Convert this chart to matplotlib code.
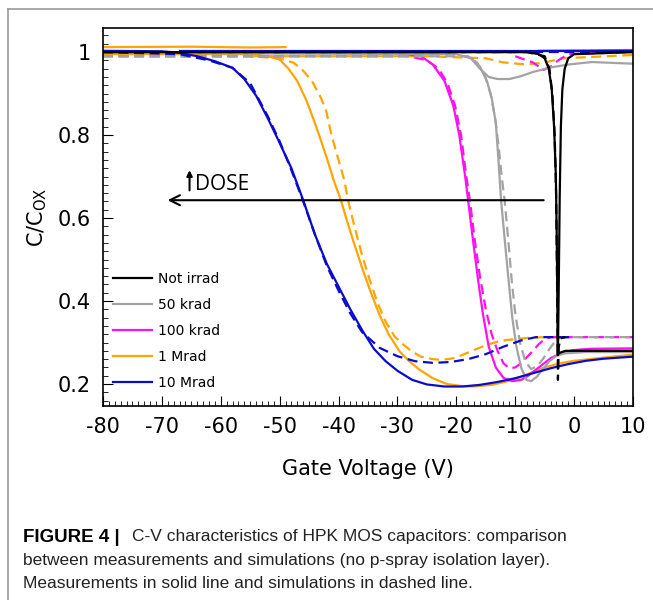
import numpy as np
import matplotlib.pyplot as plt
from matplotlib.lines import Line2D
from matplotlib.ticker import MultipleLocator, FixedLocator, FixedFormatter

plt.rcParams['axes.unicode_minus'] = False

labels = ['Not irrad', '50 krad', '100 krad', '1 Mrad', '10 Mrad']
colors = ['black', '#a3a3a3', '#ff10f0', '#ffa500', '#0b0bcc']

# 10 Mrad
v10M_meas = [-80, -70, -67, -64, -61, -58, -56, -54, -52, -50.3, -48, -46, -44, -42, -40, -38, -36, -34,
             -32, -30, -27.5, -25, -22, -19, -16, -13, -10, -7, -4, -1, 2, 5, 10]
c10M_meas = [1.003, 1.002, 0.998, 0.99, 0.978, 0.962, 0.935, 0.895, 0.84, 0.79, 0.72, 0.643, 0.56, 0.49,
             0.435, 0.38, 0.33, 0.285, 0.255, 0.232, 0.21, 0.199, 0.194, 0.194, 0.198, 0.205, 0.214, 0.226,
             0.238, 0.248, 0.256, 0.261, 0.266]
v10M_sim = [-80, -67, -62, -58, -55, -52, -50, -48, -46, -44, -42, -40, -38, -36, -33, -30, -27, -24, -21,
            -18, -15, -12, -9, -6.5, -0.5]
c10M_sim = [1.0, 0.995, 0.98, 0.962, 0.925, 0.845, 0.785, 0.715, 0.64, 0.56, 0.485, 0.425, 0.37, 0.325,
            0.287, 0.267, 0.255, 0.251, 0.253, 0.26, 0.272, 0.29, 0.305, 0.313, 0.313]
v10M_top = [-67, 10]
c10M_top = [1.003, 1.003]
v10M_top_sim = [-65, 10]
c10M_top_sim = [1.0, 1.0]

# 1 Mrad
v1M_meas = [-80, -55, -52, -50, -48.5, -47, -45.5, -44.3, -43.3, -42, -40.8, -39.6, -38.5, -37.5, -36,
            -34.5, -33, -31.5, -29.6, -28, -26.2, -24, -21.6, -19, -17.2, -14, -11.5, -9.5, -7.5, -5,
            -2.4, 0, 4, 10]
c1M_meas = [0.995, 0.995, 0.99, 0.982, 0.96, 0.93, 0.885, 0.84, 0.80, 0.745, 0.69, 0.643, 0.59, 0.545,
            0.48, 0.42, 0.365, 0.32, 0.278, 0.255, 0.234, 0.214, 0.20, 0.195, 0.194, 0.198, 0.206, 0.215,
            0.226, 0.24, 0.25, 0.256, 0.262, 0.271]
v1M_sim = [-80, -55, -50, -47.6, -46, -44.5, -43, -42.1, -41.2, -40, -39, -38.4, -37.3, -36, -34.8,
           -33.5, -32, -30.5, -29, -27.5, -26, -24, -22.5, -20.5, -19, -17, -14.9, -13, -11.5, -8, -5, -1]
c1M_sim = [0.99, 0.99, 0.985, 0.974, 0.955, 0.93, 0.89, 0.858, 0.80, 0.74, 0.69, 0.643, 0.58, 0.51,
           0.455, 0.40, 0.35, 0.315, 0.295, 0.278, 0.266, 0.26, 0.258, 0.262, 0.27, 0.282, 0.294, 0.302,
           0.306, 0.311, 0.313, 0.313]
v1M_top = [-80, -65, -55, -49]
c1M_top = [1.012, 1.013, 1.011, 1.012]
v1M_top_sim = [-55, -25, -15, -12, -8, -5, -2, 10]
c1M_top_sim = [0.99, 0.99, 0.985, 0.975, 0.97, 0.975, 0.985, 0.993]

# 100 krad
v100k_meas = [-80, -30, -26, -24, -22, -20.5, -19.5, -18.5, -18, -17.2, -16.3, -15.5, -14.5, -13.3, -12,
              -10.5, -9, -8, -6, -4, -2, 0, 3, 10]
c100k_meas = [1.0, 0.998, 0.99, 0.97, 0.93, 0.87, 0.80, 0.70, 0.643, 0.55, 0.45, 0.37, 0.29, 0.24, 0.215,
              0.207, 0.21, 0.218, 0.24, 0.262, 0.276, 0.282, 0.285, 0.286]
v100k_sim = [-80, -28, -25, -23, -21.5, -20.2, -19.2, -18.3, -17.7, -16.9, -16, -15, -14, -13, -12, -11,
             -10, -9, -8, -7, -6, -5, -4, 10]
c100k_sim = [0.99, 0.99, 0.98, 0.96, 0.925, 0.87, 0.80, 0.70, 0.643, 0.55, 0.46, 0.38, 0.32, 0.28, 0.25,
             0.238, 0.24, 0.25, 0.265, 0.28, 0.296, 0.308, 0.313, 0.313]
v100k_top = [-6, 10]
c100k_top = [1.003, 1.005]
v100k_top_sim = [-10, -7, -5.2, -4, -2.7, -1, 10]
c100k_top_sim = [0.99, 0.975, 0.957, 0.965, 0.98, 0.995, 1.0]

# 50 krad
v50k_meas = [-80, -20, -17.5, -16, -14.8, -14, -13.3, -12.9, -12.4, -11.8, -11.2, -10.5, -9.8, -9, -8.1,
             -7.3, -6.3, -5.3, -4.2, -3, -1.5, 2, 10]
c50k_meas = [0.998, 0.995, 0.985, 0.965, 0.93, 0.89, 0.83, 0.75, 0.643, 0.55, 0.46, 0.36, 0.29, 0.24,
             0.21, 0.207, 0.218, 0.236, 0.255, 0.268, 0.274, 0.277, 0.277]
v50k_sim = [-80, -18, -16.5, -15.2, -14.2, -13.4, -12.8, -12.3, -11.8, -11.2, -10.6, -10, -9.2, -8.3,
            -7.3, -6.3, -5.3, -4.4, -3.6, -2.6, -1.5, 10]
c50k_sim = [0.99, 0.99, 0.975, 0.945, 0.9, 0.84, 0.77, 0.70, 0.643, 0.55, 0.45, 0.37, 0.30, 0.255, 0.236,
            0.243, 0.26, 0.28, 0.296, 0.31, 0.313, 0.313]
v50k_top = [-17.5, -16, -14.5, -13, -11, -9, -7, -4, -1, 3, 10]
c50k_top = [0.985, 0.96, 0.94, 0.935, 0.935, 0.942, 0.952, 0.963, 0.97, 0.976, 0.972]

# not irradiated
v0_meas = [-80, -8, -6, -5, -4.3, -3.8, -3.4, -3.1, -2.95, -2.85, -2.8, -2.5, -1.5, 10]
c0_meas = [1.0, 1.0, 0.995, 0.985, 0.96, 0.91, 0.82, 0.70, 0.55, 0.40, 0.27, 0.275, 0.28, 0.28]
v0_sim = [-80, -8, -5, -4.2, -3.7, -3.3, -3.05, -2.9, -2.8, -2.75, -2.6, -2.3, -1.5]
c0_sim = [1.0, 1.0, 0.99, 0.96, 0.9, 0.8, 0.65, 0.45, 0.3, 0.21, 0.29, 0.31, 0.313]
v0_top = [-2.75, -2.6, -2.45, -2.25, -2.0, -1.6, -1, 0, 10]
c0_top = [0.27, 0.45, 0.65, 0.82, 0.91, 0.96, 0.985, 0.995, 1.0]

fig = plt.figure(figsize=(6.53, 6.0), dpi=100)
ax = fig.add_axes([0.1577, 0.3233, 0.8117, 0.63])

lw = 1.6
dash = (0, (4.5, 2.5))

# 1 Mrad
ax.plot(v1M_top, c1M_top, color=colors[3], lw=lw)
ax.plot(v1M_top_sim, c1M_top_sim, color=colors[3], lw=lw, ls=dash)
ax.plot(v1M_meas, c1M_meas, color=colors[3], lw=lw)
ax.plot(v1M_sim, c1M_sim, color=colors[3], lw=lw, ls=dash)
# 100 krad
ax.plot(v100k_top, c100k_top, color=colors[2], lw=lw)
ax.plot(v100k_top_sim, c100k_top_sim, color=colors[2], lw=lw, ls=dash)
ax.plot(v100k_meas, c100k_meas, color=colors[2], lw=lw)
ax.plot(v100k_sim, c100k_sim, color=colors[2], lw=lw, ls=dash)
# 50 krad
ax.plot(v50k_top, c50k_top, color=colors[1], lw=lw)
ax.plot(v50k_meas, c50k_meas, color=colors[1], lw=lw)
ax.plot(v50k_sim, c50k_sim, color=colors[1], lw=lw, ls=dash)
# 10 Mrad
ax.plot(v10M_top, c10M_top, color=colors[4], lw=lw)
ax.plot(v10M_top_sim, c10M_top_sim, color=colors[4], lw=lw, ls=dash)
ax.plot(v10M_meas, c10M_meas, color=colors[4], lw=lw)
ax.plot(v10M_sim, c10M_sim, color=colors[4], lw=lw, ls=dash)
# not irradiated
ax.plot(v0_meas, c0_meas, color=colors[0], lw=lw)
ax.plot(v0_top, c0_top, color=colors[0], lw=lw)
ax.plot(v0_sim, c0_sim, color=colors[0], lw=lw, ls=dash)

ax.set_xlim(-80, 10)
ax.set_ylim(0.147, 1.058)

ax.xaxis.set_major_locator(MultipleLocator(10))
ax.xaxis.set_minor_locator(MultipleLocator(1))
ax.yaxis.set_major_locator(FixedLocator([0.2, 0.4, 0.6, 0.8, 1.0]))
ax.yaxis.set_major_formatter(FixedFormatter(['0.2', '0.4', '0.6', '0.8', '1']))
ax.yaxis.set_minor_locator(MultipleLocator(0.02))
ax.tick_params(which='both', direction='in', top=False, right=False, labelsize=15)
ax.tick_params(which='major', length=7)
ax.tick_params(which='minor', length=3.5)
ax.tick_params(axis='x', which='major', pad=8)
ax.tick_params(axis='y', which='major', pad=9)
for s in ax.spines.values():
    s.set_linewidth(1.2)

ax.set_xlabel('Gate Voltage (V)', fontsize=15, labelpad=16)
ax.set_ylabel(r'C/C$_\mathregular{OX}$', fontsize=15, labelpad=6)

handles = [Line2D([], [], color=c, lw=lw) for c in colors]
ax.legend(handles, labels, loc='upper left', bbox_to_anchor=(-0.004, 0.388), frameon=False,
          fontsize=10, handlelength=2.8, labelspacing=0.86, handletextpad=0.45)

# dose arrow
ax.annotate('', xy=(-69.5, 0.643), xytext=(-4.7, 0.643),
            arrowprops=dict(arrowstyle='->', color='black', lw=1.5, mutation_scale=18))
ax.annotate('', xy=(-65.3, 0.722), xytext=(-65.3, 0.66),
            arrowprops=dict(arrowstyle='-|>', color='black', lw=1.5, mutation_scale=8))
ax.text(-64.3, 0.680, 'DOSE', fontsize=15, family='Open Sans', va='center', ha='left')

# figure frame and caption
fig.add_artist(Line2D([8 / 653, 1.0], [1 - 9 / 600, 1 - 9 / 600], color='#9a9a9a', lw=1.2))
fig.add_artist(Line2D([8 / 653, 8 / 653], [0, 1 - 9 / 600], color='#9a9a9a', lw=1.2))

cap_font = 'Liberation Sans'
fig.text(23 / 653, 1 - 537 / 600, 'FIGURE 4 |', fontsize=13.5, fontweight='bold', family=cap_font,
         va='center')
fig.text(132 / 653, 1 - 537 / 600, 'C-V characteristics of HPK MOS capacitors: comparison',
         fontsize=12.5, family=cap_font, va='center', color='#222222')
fig.text(23 / 653, 1 - 560 / 600, 'between measurements and simulations (no p-spray isolation layer).',
         fontsize=12.5, family=cap_font, va='center', color='#222222')
fig.text(23 / 653, 1 - 583 / 600, 'Measurements in solid line and simulations in dashed line.',
         fontsize=12.5, family=cap_font, va='center', color='#222222')

fig.savefig('out.png', dpi=100)
